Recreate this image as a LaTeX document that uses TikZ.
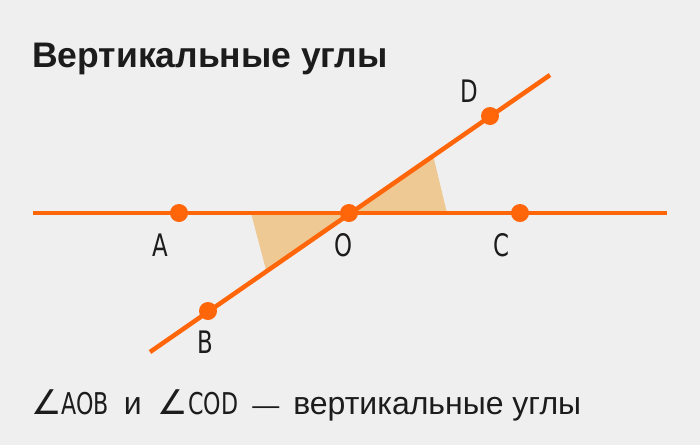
\documentclass[tikz,border=0pt]{standalone}
\usepackage{fontspec}
\setmainfont{Liberation Sans}
\newfontfamily\condfont[FakeStretch=0.82]{DejaVu Sans Condensed}
\newfontfamily\symfont{DejaVu Sans}
\usetikzlibrary{positioning}
\definecolor{vaorange}{RGB}{255,102,10}
\definecolor{vashade}{RGB}{239,201,147}
\definecolor{vabg}{RGB}{239,239,239}
\definecolor{vaink}{RGB}{28,28,28}
\tikzstyle{geoline} = [line width=4.5pt, color=vaorange]
\tikzstyle{dot} = [circle, fill=vaorange, inner sep=0pt, minimum size=18pt]
\tikzstyle{lbl} = [anchor=base, inner sep=0pt, text=vaink, font=\condfont\fontsize{31}{31}\selectfont]

\begin{document}
\begin{tikzpicture}[x=1pt, y=-1pt]
% Background
\fill[vabg] (0,0) rectangle (700,445);
\useasboundingbox (0,0) rectangle (700,445);

% Title
\node[anchor=base west, inner sep=0pt, text=vaink, font=\bfseries\fontsize{35.5}{36}\selectfont] (title) at (32,67) {Вертикальные углы};

% Line ends
\coordinate (hl) at (33,213);
\coordinate (hr) at (667,213);
\coordinate (bl) at (150,352);
\coordinate (tr) at (550,75);
\coordinate (O) at (349,213);

% Angle sectors
\fill[vashade] (O) -- (447,213) -- (433,155) -- cycle;
\fill[vashade] (O) -- (251,213) -- (266,270) -- cycle;

% Lines
\draw[geoline] (hl) -- (hr);
\draw[geoline] (bl) -- (tr);

% Points
\node[dot] (a) at (179,213) {};
\node[dot] (o) at (O) {};
\node[dot] (c) at (520,213) {};
\node[dot] (d) at (490,116) {};
\node[dot] (b) at (208,311) {};

% Labels
\node[lbl] (la) at (160,256) {A};
\node[lbl] (lo) at (343,256) {O};
\node[lbl] (lc) at (501,256) {C};
\node[lbl] (ld) at (469,102) {D};
\node[lbl] (lb) at (205,353) {B};

% Caption
\node[anchor=base west, inner sep=0pt, text=vaink, font=\fontsize{32}{34}\selectfont] (caption) at (31,414)
  {{\symfont\fontsize{34}{34}\selectfont ∠}{\condfont\fontsize{30}{30}\selectfont AOB}\hspace{15pt}и\hspace{16pt}{\symfont\fontsize{34}{34}\selectfont ∠}{\condfont\fontsize{30}{30}\selectfont COD}\hspace{14pt}{\fontsize{27}{30}\selectfont —}\hspace{14pt}вертикальные углы};
\end{tikzpicture}
\end{document}
